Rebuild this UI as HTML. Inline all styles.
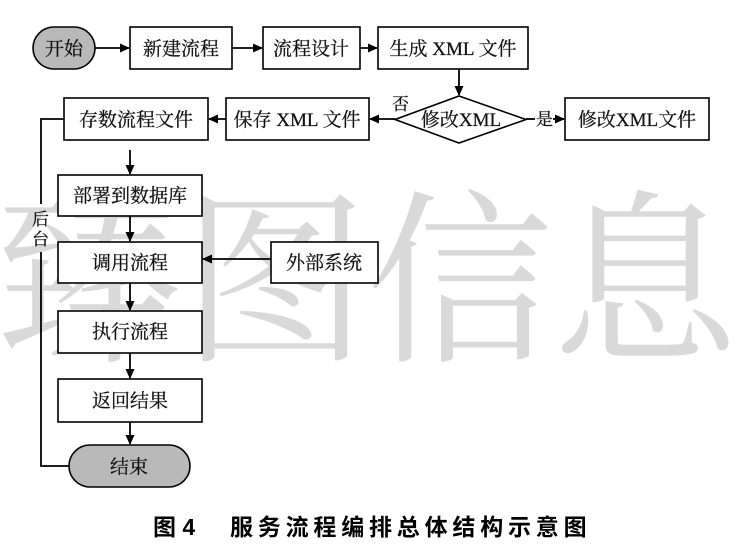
<!DOCTYPE html>
<html><head><meta charset="utf-8"><style>
html,body{margin:0;padding:0;background:#fff;}
svg{display:block;}
.t{font-family:"Liberation Serif","Noto Serif CJK SC",serif;font-size:19px;fill:#111;stroke:#111;stroke-width:0.25;}
</style></head><body>
<svg width="750" height="559" viewBox="0 0 750 559" xmlns="http://www.w3.org/2000/svg">
<defs>
<marker id="a" markerWidth="10" markerHeight="10" refX="9" refY="5" orient="auto" markerUnits="userSpaceOnUse">
<path d="M0,0.5 L10,5 L0,9.5 Z" fill="#000"/>
</marker>
</defs>
<!-- watermark -->
<text x="-3" y="347" font-family="'Noto Serif CJK SC',serif" font-size="186" fill="#d9d9d9" letter-spacing="-1">臻图信息</text>

<g stroke="#000" stroke-width="1.6" fill="#fff">
<rect x="33" y="27" width="62" height="42" rx="21" fill="#b9b9b9"/>
<rect x="130" y="27" width="102" height="42"/>
<rect x="263" y="27" width="97" height="42"/>
<rect x="378" y="27" width="150" height="42"/>
<polygon points="395,119.5 459,96 526,119.5 459,143"/>
<rect x="565" y="98" width="144" height="42"/>
<rect x="226" y="98" width="143" height="42"/>
<rect x="64" y="98" width="144" height="42"/>
<rect x="58" y="175" width="144" height="41"/>
<rect x="58" y="242" width="144" height="41"/>
<rect x="271" y="242" width="107" height="41"/>
<rect x="58" y="311" width="144" height="42"/>
<rect x="58" y="379" width="144" height="43"/>
<rect x="69" y="445" width="121" height="42" rx="21" fill="#b9b9b9"/>
</g>

<g stroke="#000" stroke-width="1.8" fill="none">
<line x1="95" y1="48" x2="129" y2="48" marker-end="url(#a)"/>
<line x1="232" y1="48" x2="262" y2="48" marker-end="url(#a)"/>
<line x1="360" y1="48" x2="377" y2="48" marker-end="url(#a)"/>
<line x1="459" y1="69" x2="459" y2="95" marker-end="url(#a)"/>
<line x1="395" y1="119" x2="370" y2="119" marker-end="url(#a)"/>
<line x1="526" y1="119" x2="535" y2="119"/>
<line x1="553" y1="119" x2="564" y2="119" marker-end="url(#a)"/>
<line x1="226" y1="119" x2="209" y2="119" marker-end="url(#a)"/>
<polyline points="64,119 41,119 41,204"/>
<polyline points="41,252 41,466 69,466"/>
<line x1="130" y1="150" x2="130" y2="174" marker-end="url(#a)"/>
<line x1="130" y1="216" x2="130" y2="241" marker-end="url(#a)"/>
<line x1="271" y1="259" x2="203" y2="259" marker-end="url(#a)"/>
<line x1="130" y1="283" x2="130" y2="310" marker-end="url(#a)"/>
<line x1="130" y1="353" x2="130" y2="378" marker-end="url(#a)"/>
<line x1="130" y1="422" x2="130" y2="444" marker-end="url(#a)"/>
</g>

<g class="t" text-anchor="middle">
<text x="64" y="55">开始</text>
<text x="181" y="55">新建流程</text>
<text x="311" y="55">流程设计</text>
<text x="453" y="55">生成 XML 文件</text>
<text x="461" y="126">修改XML</text>
<text x="637" y="126">修改XML文件</text>
<text x="297" y="126">保存 XML 文件</text>
<text x="136" y="126">存数流程文件</text>
<text x="130" y="202">部署到数据库</text>
<text x="130" y="269">调用流程</text>
<text x="324" y="269">外部系统</text>
<text x="130" y="338">执行流程</text>
<text x="130" y="407">返回结果</text>
<text x="129" y="473">结束</text>
</g>
<g class="t" style="font-size:17px">
<text x="392" y="110">否</text>
<text x="536" y="125">是</text>
<text x="32" y="225">后</text>
<text x="32" y="245">台</text>
</g>

<text x="153" y="535" font-family="'Liberation Sans','Noto Sans CJK SC',sans-serif" font-weight="bold" font-size="23" fill="#000">图 4</text>
<text x="230" y="535" font-family="'Liberation Sans','Noto Sans CJK SC',sans-serif" font-weight="bold" font-size="23" letter-spacing="4.8" fill="#000">服务流程编排总体结构示意图</text>
</svg>
</body></html>
